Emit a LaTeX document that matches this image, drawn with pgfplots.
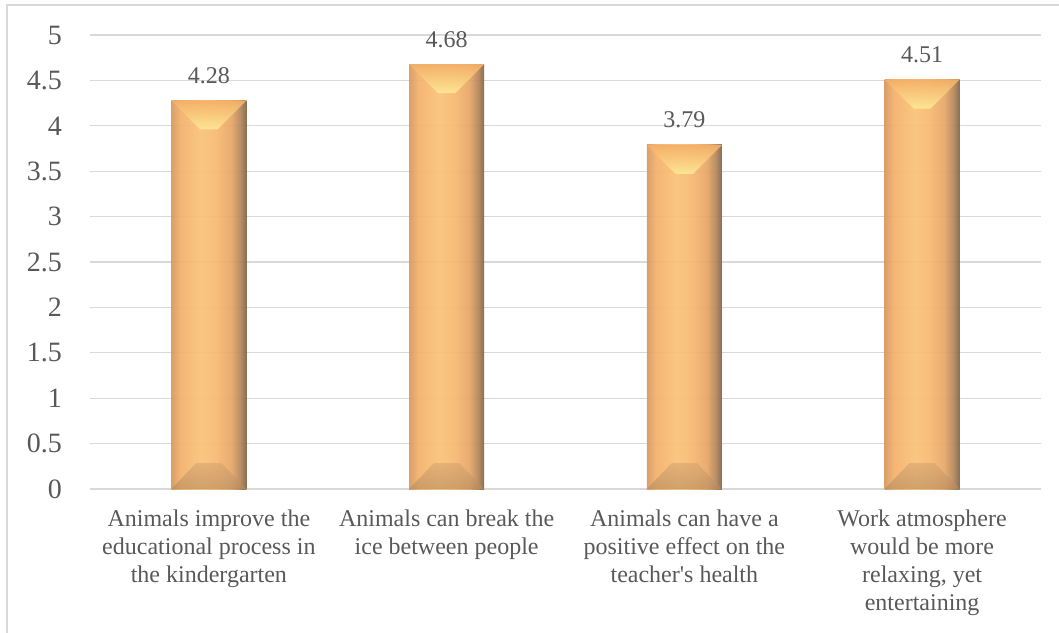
\documentclass[border=0pt]{standalone}
\usepackage{fontspec}
\setmainfont{Liberation Serif}
\usepackage{pgfplots}
\pgfplotsset{compat=1.18}
\definecolor{txt}{RGB}{89,89,89}
\definecolor{gridc}{RGB}{217,217,217}
\pgfdeclarehorizontalshading{barshade}{100bp}{%
  rgb(0bp)=(0.84,0.60,0.37); rgb(25bp)=(0.84,0.60,0.37);
  rgb(31bp)=(0.95,0.69,0.42); rgb(45bp)=(0.98,0.76,0.47);
  rgb(55bp)=(0.97,0.72,0.44); rgb(65bp)=(0.90,0.65,0.40);
  rgb(71bp)=(0.70,0.52,0.35); rgb(75bp)=(0.50,0.39,0.28);
  rgb(100bp)=(0.50,0.39,0.28)}
\definecolor{bevtop}{RGB}{244,174,102}
\definecolor{bevtopin}{RGB}{254,234,150}
\definecolor{bevbot}{RGB}{214,165,112}
\definecolor{bevbotout}{RGB}{180,138,96}
\begin{document}
\begin{tikzpicture}
\useasboundingbox (-90pt,-143pt) rectangle (969pt,489pt);
\begin{axis}[
  at={(0,0)}, anchor=south west,
  scale only axis, width=951pt, height=454pt,
  xmin=-0.5, xmax=3.5, ymin=0, ymax=5,
  ytick={0,0.5,...,5},
  xtick={0,1,2,3},
  xticklabels={
    {Animals improve the\\educational process in\\the kindergarten},
    {Animals can break the\\ice between people},
    {Animals can have a\\positive effect on the\\teacher\textquotesingle s health},
    {Work atmosphere\\would be more\\relaxing, yet\\entertaining}},
  ymajorgrids,
  grid style={draw=gridc, line width=1.2pt},
  axis line style={draw=none},
  major tick length=0pt,
  /pgf/number format/assume math mode=true,
  yticklabel style={font=\fontsize{28}{30}\selectfont, text=txt, inner sep=0pt, anchor=east, xshift=-28pt},
  xticklabel style={font=\fontsize{24}{28}\selectfont, text=txt, align=center, anchor=north, inner sep=0pt, yshift=-21pt},
  nodes near coords style={font=\fontsize{24}{28}\selectfont, text=txt, text opacity=1, anchor=base, inner sep=0pt, yshift=17pt},
  clip=false,
]
% bars
\addplot[ybar, bar width=75pt, bar shift=0pt, draw=none, shading=barshade, fill opacity=0.93, nodes near coords] coordinates {(0,4.28)};
\addplot[ybar, bar width=75pt, bar shift=0pt, draw=none, shading=barshade, fill opacity=0.93, nodes near coords] coordinates {(1,4.68)};
\addplot[ybar, bar width=75pt, bar shift=0pt, draw=none, shading=barshade, fill opacity=0.93, nodes near coords] coordinates {(2,3.79)};
\addplot[ybar, bar width=75pt, bar shift=0pt, draw=none, shading=barshade, fill opacity=0.93, nodes near coords] coordinates {(3,4.51)};
% top bevels
\addplot[draw=none, mark=none, top color=bevtop, bottom color=bevtopin, fill opacity=0.9] coordinates {(-0.158,4.28) (0.158,4.28) (0.036,3.96) (-0.036,3.96)} -- cycle;
\addplot[draw=none, mark=none, top color=bevtop, bottom color=bevtopin, fill opacity=0.9] coordinates {(0.842,4.68) (1.158,4.68) (1.036,4.36) (0.964,4.36)} -- cycle;
\addplot[draw=none, mark=none, top color=bevtop, bottom color=bevtopin, fill opacity=0.9] coordinates {(1.842,3.79) (2.158,3.79) (2.036,3.47) (1.964,3.47)} -- cycle;
\addplot[draw=none, mark=none, top color=bevtop, bottom color=bevtopin, fill opacity=0.9] coordinates {(2.842,4.51) (3.158,4.51) (3.036,4.19) (2.964,4.19)} -- cycle;
% bottom bevels
\addplot[draw=none, mark=none, top color=bevbot, bottom color=bevbotout, fill opacity=0.6] coordinates {(-0.158,0) (0.158,0) (0.053,0.286) (-0.053,0.286)} -- cycle;
\addplot[draw=none, mark=none, top color=bevbot, bottom color=bevbotout, fill opacity=0.6] coordinates {(0.842,0) (1.158,0) (1.053,0.286) (0.947,0.286)} -- cycle;
\addplot[draw=none, mark=none, top color=bevbot, bottom color=bevbotout, fill opacity=0.6] coordinates {(1.842,0) (2.158,0) (2.053,0.286) (1.947,0.286)} -- cycle;
\addplot[draw=none, mark=none, top color=bevbot, bottom color=bevbotout, fill opacity=0.6] coordinates {(2.842,0) (3.158,0) (3.053,0.286) (2.947,0.286)} -- cycle;
\end{axis}
\draw[gridc, line width=1.5pt] (-83pt,-200pt) -- (-83pt,484pt) -- (1100pt,484pt);
\end{tikzpicture}
\end{document}
